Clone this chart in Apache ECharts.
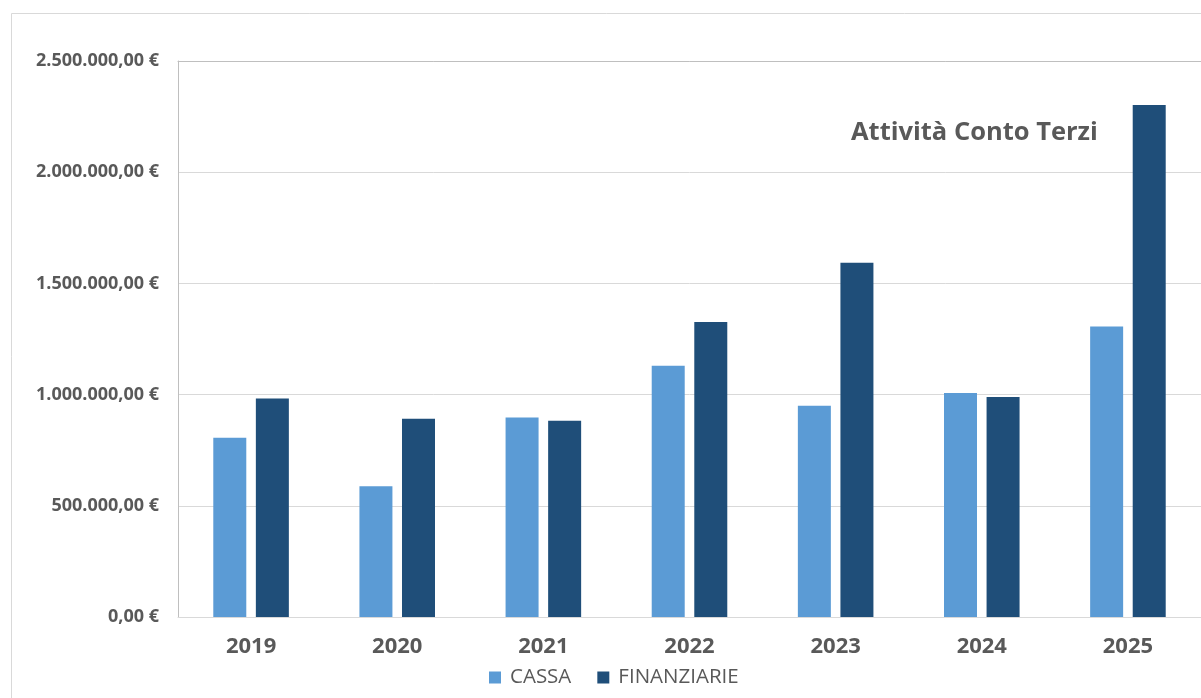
<!DOCTYPE html>
<html>
<head>
<meta charset="utf-8">
<script src="https://cdn.jsdelivr.net/npm/echarts@6/dist/echarts.min.js"></script>
<style>html,body{margin:0;padding:0;background:#fff;}#c{width:1201px;height:698px;}</style>
</head>
<body>
<div id="c"></div>
<script>
const categories = ['2019','2020','2021','2022','2023','2024','2025'];
const cassa = [806000, 588000, 897000, 1130000, 950000, 1007000, 1306000];
const finanziarie = [983000, 891000, 882000, 1326000, 1593000, 989000, 2302000];
const yTickLabels = ['0,00 €','500.000,00 €','1.000.000,00 €','1.500.000,00 €','2.000.000,00 €','2.500.000,00 €'];
const seriesNames = ['CASSA','FINANZIARIE'];
const chartTitle = 'Attività Conto Terzi';

const chart = echarts.init(document.getElementById('c'));
const font = '"Open Sans", sans-serif';
chart.setOption({
  animation: false,
  backgroundColor: '#ffffff',
  title: {
    text: chartTitle,
    left: 846, top: 115,
    textStyle: {fontFamily: font, fontWeight: 'bold', fontSize: 25.5, color: '#595959'}
  },
  legend: {
    data: seriesNames,
    left: 484, top: 662,
    itemWidth: 12, itemHeight: 12, itemGap: 26,
    icon: 'rect',
    textStyle: {fontFamily: font, fontSize: 20.5, color: '#595959', padding: [0,0,0,4]}
  },
  graphic: [{
    type: 'rect', silent: true, z: -10,
    shape: {x: 11.5, y: 13.5, width: 1400, height: 900},
    style: {fill: 'none', stroke: '#d9d9d9', lineWidth: 1}
  }],
  grid: {left: 178, top: 61, width: 1027, height: 556},
  xAxis: [{
    type: 'category', data: categories,
    axisLine: {lineStyle: {color: '#d9d9d9'}},
    axisTick: {show: false},
    axisLabel: {fontFamily: font, fontWeight: 'bold', fontSize: 22, color: '#595959', margin: 19}
  },{
    type: 'category', data: categories, position: 'top',
    axisLine: {show: true, lineStyle: {color: '#bfbfbf'}},
    axisTick: {show: false}, axisLabel: {show: false}
  }],
  yAxis: {
    type: 'value', min: 0, max: 2500000, interval: 500000,
    axisLine: {show: true, lineStyle: {color: '#bfbfbf'}},
    axisTick: {show: false},
    splitLine: {lineStyle: {color: '#d9d9d9'}},
    axisLabel: {
      fontFamily: font, fontWeight: 'bold', fontSize: 18, color: '#595959', margin: 19,
      formatter: v => yTickLabels[Math.round(v / 500000)]
    }
  },
  series: [{
    name: seriesNames[0], type: 'bar', data: cassa,
    barWidth: 33, barGap: '29%',
    itemStyle: {color: '#5B9BD5'}
  },{
    name: seriesNames[1], type: 'bar', data: finanziarie,
    barWidth: 33, barGap: '29%',
    itemStyle: {color: '#1F4E79'}
  }]
});
</script>
</body>
</html>
